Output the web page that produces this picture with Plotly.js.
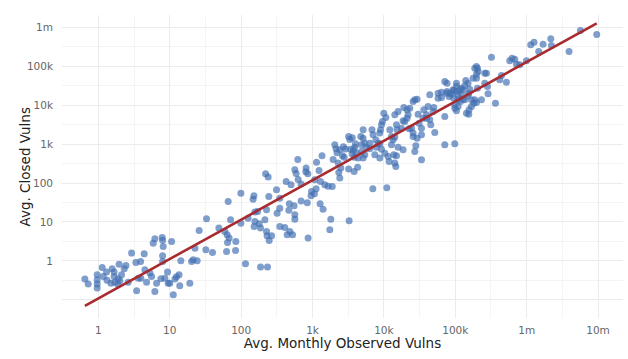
<!DOCTYPE html>
<html>
<head>
<meta charset="utf-8">
<script src="https://cdn.plot.ly/plotly-3.0.1.min.js"></script>
<style>
  html, body { margin: 0; padding: 0; background: #ffffff; }
  #chart { width: 628px; height: 359px; }
</style>
</head>
<body>
<div id="chart"></div>
<script>
// Avg. monthly observed vulns (x) per organisation
const observedVulns = [
  0.647, 0.719, 0.962, 0.962, 0.962, 0.962, 1.13, 1.17, 1.30, 1.50,
  1.56, 1.66, 1.66, 1.70, 1.86, 1.95, 2.00, 2.11, 2.30, 2.43,
  2.61, 2.92, 3.35, 3.43, 3.61, 3.90, 3.94, 4.38, 4.48, 4.73,
  5.26, 5.56, 5.86, 6.18, 6.18, 6.53, 7.50, 7.83, 8.09, 7.93,
  7.93, 9.31, 9.50, 10.6, 11.2, 8.54, 11.8, 10.0, 13.8, 13.5,
  14.3, 19.1, 7.93, 1.89, 1.32,
  32.7, 25.8, 48.7, 22.5, 32.0, 39.7, 20.2, 21.3, 24.2, 12.4,
  59.1, 65.8, 63.7, 67.9, 71.1, 64.5, 84.3, 62.5, 83.5, 99.1,
  99.1, 115, 125, 151, 147, 156, 170, 156, 152, 179,
  187, 215, 231, 247, 187, 234, 220, 239, 244, 227, 227,
  313, 348, 348, 319, 427, 500, 473, 466, 552, 565,
  622, 565, 589, 629, 692, 692, 565, 813, 805, 859,
  968, 953, 845, 1138, 1233, 1122, 1064, 1277, 1406, 1358,
  1076, 1294, 1486, 1652, 1892, 1803, 1746, 3258, 1945, 2051,
  2133, 2203, 2411, 2411, 2286, 2489, 2334, 2630, 2710, 2911,
  2773, 3206, 3327, 3606, 3436, 3741, 3589, 3848, 3206, 3826,
  4285, 4001, 4745, 4855, 4855, 409, 481, 267, 348, 441, 525, 867,
  3910, 4130, 4355, 5117, 5702, 5397, 6353, 7063, 6808, 7708,
  7870, 8770, 9250, 9550, 9970, 8770, 9250, 10300, 11450, 12100,
  14220, 15810, 15000, 14220, 15810, 15000, 18580, 19630, 21130, 23070,
  25650, 29170, 24370, 25650, 29170, 27990, 33630, 35400, 39540, 41590,
  43950, 33630, 27100, 51640, 48870, 57410, 64120, 71290, 76740, 71290,
  71290, 98400, 75300, 83750, 95300, 104000, 109400, 122200, 135900, 140300,
  151000, 159600, 151000, 128600, 118300, 109400, 98400, 168700, 181600, 198200,
  143500, 156000, 187500, 198200, 208500, 258800, 198200, 232800, 287800,
  5117, 5397, 5117, 6353, 7460, 8300, 8960, 10640, 8770, 11830,
  13770, 14220, 14690, 12770, 13450, 12770, 15300, 17630, 18580, 19010,
  21130, 21830, 22540, 25650, 27100, 30130, 31120, 33630, 36220, 39540,
  43950, 45390, 50000, 57410, 64120, 76740, 81850, 88490, 93130, 95300,
  109400, 98400, 6998, 10990,
  104000, 104000, 115600, 122200, 128600, 135900, 104000, 154500, 204600, 198200,
  177500, 204600, 187500, 154500, 168700, 258800, 273500, 282500, 321400, 365600,
  419800, 443600, 521200, 579400, 625200, 680800, 719500, 800000, 993100, 1140000,
  1270000, 1476000, 1698000, 2178000, 2223000, 3926000, 5675000, 9590000
];

// Avg. closed vulns (y) per organisation
const closedVulns = [
  0.339, 0.252, 0.437, 0.325, 0.252, 0.199, 0.673, 0.394, 0.513, 0.267,
  0.623, 0.513, 0.394, 0.283, 0.252, 0.822, 0.306, 0.437, 0.623, 0.757,
  0.283, 1.58, 0.904, 0.169, 0.359, 0.959, 0.359, 1.51, 0.587, 0.283,
  0.483, 0.394, 2.85, 3.68, 0.163, 0.267, 0.344, 3.97, 2.33, 1.35,
  0.959, 0.513, 0.267, 3.13, 0.134, 0.359, 0.339, 0.267, 0.228, 0.437,
  1.0, 0.267, 3.40, 0.344, 0.315,
  12.0, 6.01, 6.93, 2.12, 1.92, 1.63, 0.959, 1.06, 1.0, 0.388,
  5.66, 33.4, 4.66, 3.84, 11.3, 2.95, 3.13, 1.73, 1.84, 55.0,
  9.31, 0.837, 12.5, 46.9, 38.5, 17.9, 18.5, 10.2, 7.62, 8.93,
  6.93, 11.3, 4.39, 3.33, 0.689, 0.689, 173, 142, 45.0, 20.5, 5.66,
  66.8, 40.9, 22.6, 16.8, 109, 89.9, 29.2, 20.1, 25.9, 15.2,
  404, 218, 177, 124, 94.2, 34.5, 11.8, 242, 195, 173,
  60.4, 46.9, 31.0, 340, 209, 71.0, 52.7, 29.2, 21.3, 500,
  121, 109, 89.9, 83.2, 81.3, 11.8, 6.27, 10.7, 404, 959,
  766, 597, 713, 134, 325, 242, 186, 500, 853, 748,
  463, 1567, 1321, 1469, 743, 697, 563, 463, 228, 198,
  253, 1018, 1567, 959, 645, 7.18, 5.66, 4.39, 7.62, 4.66, 4.66, 3.84,
  837, 587, 437, 2333, 837, 531, 1061, 1734, 2333, 1290,
  837, 1919, 3133, 3811, 6266, 1018, 743, 587, 480, 2333,
  5662, 6887, 3133, 1514, 837, 500, 713, 3811, 4660, 8420,
  12450, 14350, 2578, 1919, 1426, 904, 2578, 4660, 5662, 9270,
  18500, 395, 645, 1986, 6887, 20460, 21730, 40640, 36980, 5124,
  959, 1018, 20460, 20460, 23880, 36980, 18500, 27540, 31550, 43150,
  36980, 25940, 17460, 14350, 12450, 9270, 10230, 13770, 11320, 11730,
  6266, 7620, 89900, 98900, 73500, 66850, 49750, 13770, 19630,
  1426, 1061, 437, 757, 531, 1061, 2333, 4830, 437, 357,
  531, 325, 266, 1567, 1290, 959, 2333, 2578, 3972, 8730,
  7620, 5662, 2473, 1567, 13770, 5902, 3467, 1734, 7620, 4660,
  4217, 3133, 8730, 15230, 15780, 22490, 16750, 19280, 24890, 15230,
  13770, 8420, 71.0, 75.3,
  30270, 22490, 24890, 18500, 24890, 13770, 7178, 20460, 89900, 62950,
  49750, 27540, 13770, 5902, 9270, 36980, 66850, 30270, 172200, 11320,
  44980, 57980, 39260, 138400, 162500, 153100, 114000, 109400, 138400, 357300,
  418800, 239900, 372400, 509300, 342800, 239900, 831800, 656200
];

// Fitted trend (log10 closed = fitIntercept + fitSlope * log10 observed)
const fitIntercept = -0.966;
const fitSlope = 1.013;

const xTickVals = [1, 10, 100, 1e3, 1e4, 1e5, 1e6, 1e7];
const xTickText = ['1', '10', '100', '1k', '10k', '100k', '1m', '10m'];
const yTickVals = [0.1, 1, 10, 100, 1e3, 1e4, 1e5, 1e6];
const yTickText = ['', '1', '10', '100', '1k', '10k', '100k', '1m'];

const xMin = Math.min(...observedVulns);
const xMax = Math.max(...observedVulns);
const fitX = [xMin, xMax];
const fitY = fitX.map(v => Math.pow(10, fitIntercept + fitSlope * Math.log10(v)));

const halfDecades = (lo, hi) => {
  const out = [];
  for (let k = lo; k <= hi; k++) out.push(Math.pow(10, k + 0.5));
  return out;
};

const FONT = 'DejaVu Sans, sans-serif';

const traces = [
  {
    type: 'scatter',
    mode: 'markers',
    x: observedVulns,
    y: closedVulns,
    marker: { size: 7, color: 'rgba(66,112,178,0.68)', line: { width: 0 } },
    hoverinfo: 'x+y'
  },
  {
    type: 'scatter',
    mode: 'lines',
    x: fitX,
    y: fitY,
    line: { color: '#a82b30', width: 2.6 },
    hoverinfo: 'skip'
  }
];

const layout = {
  width: 628,
  height: 359,
  margin: { l: 62, r: 5, t: 15, b: 41 },
  paper_bgcolor: '#ffffff',
  plot_bgcolor: '#ffffff',
  showlegend: false,
  font: { family: FONT, color: '#666666', size: 11 },
  xaxis: {
    type: 'log',
    range: [-0.51, 7.35],
    tickvals: xTickVals,
    ticktext: xTickText,
    ticks: '',
    showline: false,
    zeroline: false,
    gridcolor: '#ebebeb',
    gridwidth: 1,
    tickfont: { family: FONT, size: 10.5, color: '#666666' },
    ticklabelstandoff: 4,
    minor: { tickvals: halfDecades(-1, 6), showgrid: true, gridcolor: '#f4f4f4', gridwidth: 1, ticks: '' },
    title: { text: 'Avg. Monthly Observed Vulns', font: { family: FONT, size: 13.5, color: '#222222' }, standoff: 3 }
  },
  yaxis: {
    type: 'log',
    range: [-1.47, 6.32],
    tickvals: yTickVals,
    ticktext: yTickText,
    ticks: '',
    showline: false,
    zeroline: false,
    gridcolor: '#ebebeb',
    gridwidth: 1,
    tickfont: { family: FONT, size: 10.5, color: '#666666' },
    ticklabelstandoff: 8,
    minor: { tickvals: halfDecades(-2, 6), showgrid: true, gridcolor: '#f4f4f4', gridwidth: 1, ticks: '' },
    title: { text: '' }
  },
  annotations: [
    {
      text: 'Avg. Closed Vulns',
      xref: 'paper', yref: 'paper',
      x: -0.066, y: 0.5,
      xanchor: 'center', yanchor: 'middle',
      textangle: -90,
      showarrow: false,
      font: { family: FONT, size: 13.5, color: '#222222' }
    }
  ]
};

Plotly.newPlot('chart', traces, layout, { displayModeBar: false, staticPlot: true });
</script>
</body>
</html>
